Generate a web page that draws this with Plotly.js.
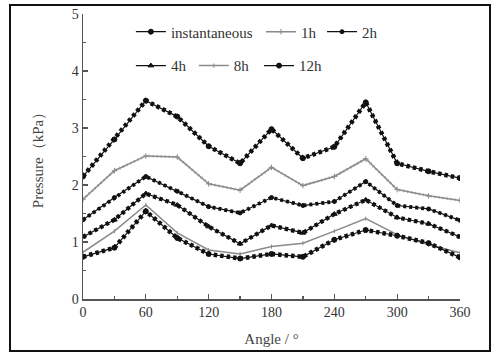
<!DOCTYPE html>
<html>
<head>
<meta charset="utf-8">
<script src="https://cdn.plot.ly/plotly-3.0.1.min.js"></script>
<style>
  html, body { margin: 0; padding: 0; background: #fff; }
  #wrap { position: relative; width: 493px; height: 359px; }
  #chart { width: 493px; height: 359px; }
  #frame { position: absolute; left: 9px; top: 4px; width: 478px; height: 344px;
           border: 2px solid #111; pointer-events: none; }
</style>
</head>
<body>
<div id="wrap">
  <div id="chart"></div>
  <div id="frame"></div>
</div>
<script>
const angles = [0, 30, 60, 90, 120, 150, 180, 210, 240, 270, 300, 330, 360];
const seriesNames = ["instantaneous", "1h", "2h", "4h", "8h", "12h"];
const pInstantaneous = [2.15, 2.80, 3.48, 3.20, 2.68, 2.38, 2.98, 2.47, 2.67, 3.45, 2.38, 2.24, 2.12];
const p1h  = [1.75, 2.25, 2.51, 2.49, 2.02, 1.91, 2.31, 1.99, 2.15, 2.46, 1.92, 1.81, 1.73];
const p2h  = [1.39, 1.78, 2.15, 1.89, 1.62, 1.51, 1.78, 1.64, 1.71, 2.06, 1.64, 1.58, 1.38];
const p4h  = [1.09, 1.39, 1.85, 1.65, 1.27, 0.97, 1.29, 1.16, 1.49, 1.74, 1.43, 1.32, 1.09];
const p8h  = [0.82, 1.19, 1.65, 1.16, 0.86, 0.79, 0.92, 0.98, 1.19, 1.41, 1.13, 0.95, 0.81];
const p12h = [0.74, 0.90, 1.54, 1.07, 0.79, 0.71, 0.79, 0.74, 1.04, 1.21, 1.11, 0.98, 0.73];
const xTicks = [0, 60, 120, 180, 240, 300, 360];
const yTicks = [0, 1, 2, 3, 4, 5];

const values = [pInstantaneous, p1h, p2h, p4h, p8h, p12h];
const styles = [
  {color: '#111', symbol: 'circle', size: 5, lw: 1.2, bead: {w: 4.5, dash: '3.5px,3px', color: '#111'}},
  {color: '#8a8a8a', symbol: 'cross-thin', size: 4, lw: 1.5, bead: {w: 3, dash: '1px,3px', color: 'rgba(150,150,150,0.7)'}},
  {color: '#111', symbol: 'circle', size: 4, lw: 1.2, bead: {w: 3.8, dash: '3px,3px', color: '#111'}},
  {color: '#111', symbol: 'triangle-up', size: 5, lw: 1.2, bead: {w: 4.2, dash: '3.5px,3px', color: '#111'}},
  {color: '#8a8a8a', symbol: 'line-ns', size: 3, lw: 1.5, bead: null},
  {color: '#111', symbol: 'circle', size: 5, lw: 1.2, bead: {w: 4.5, dash: '3.5px,3px', color: '#111'}}
];
// legend placement (paper coords) for each entry
const legendX = [0.127, 0.472, 0.634, 0.127, 0.294, 0.467];
const legendY = [0.937, 0.937, 0.937, 0.818, 0.818, 0.818];

const traces = [];
seriesNames.forEach((name, i) => {
  const s = styles[i];
  if (s.bead) {
    traces.push({
      x: angles, y: values[i], type: 'scatter', mode: 'lines',
      line: {color: s.bead.color, width: s.bead.w, dash: s.bead.dash},
      showlegend: false, hoverinfo: 'skip'
    });
  }
  traces.push({
    x: angles, y: values[i], type: 'scatter', mode: 'lines+markers', name: name,
    legend: i === 0 ? 'legend' : 'legend' + (i + 1),
    line: {color: s.color, width: s.lw},
    marker: {color: s.color, symbol: s.symbol, size: s.size, line: {color: s.color, width: 1}}
  });
});

const serif = 'Liberation Serif, Times New Roman, serif';
const layout = {
  width: 493, height: 359,
  margin: {l: 83, r: 33, t: 14, b: 60},
  paper_bgcolor: '#fff', plot_bgcolor: '#fff',
  font: {family: serif, size: 14, color: '#333'},
  xaxis: {
    range: [0, 360], tickvals: xTicks, ticktext: xTicks.map(String),
    showgrid: false, zeroline: false, showline: true, linecolor: '#555', linewidth: 1.5,
    ticks: 'inside', ticklen: 5, tickcolor: '#555', tickwidth: 1.2,
    minor: {dtick: 30, ticks: 'inside', ticklen: 3, tickcolor: '#555', showgrid: false},
    tickfont: {family: serif, size: 14, color: '#333'},
    title: {text: 'Angle / °', font: {family: serif, size: 15, color: '#444'}, standoff: 14}
  },
  yaxis: {
    range: [0, 5], tickvals: yTicks, ticktext: yTicks.map(String),
    showgrid: false, zeroline: false, showline: true, linecolor: '#555', linewidth: 1.5,
    ticks: 'inside', ticklen: 5, tickcolor: '#555', tickwidth: 1.2,
    minor: {dtick: 0.5, ticks: 'inside', ticklen: 3, tickcolor: '#555', showgrid: false},
    tickfont: {family: serif, size: 14, color: '#333'},
    title: {text: 'Pressure（kPa）', font: {family: serif, size: 15, color: '#444'}, standoff: 24}
  },
  showlegend: true
};
seriesNames.forEach((name, i) => {
  const key = i === 0 ? 'legend' : 'legend' + (i + 1);
  layout[key] = {
    orientation: 'h', x: legendX[i], y: legendY[i], xanchor: 'left', yanchor: 'middle',
    bgcolor: 'rgba(0,0,0,0)', font: {family: serif, size: 15, color: '#333'},
    itemwidth: 30
  };
});

Plotly.newPlot('chart', traces, layout, {displayModeBar: false, staticPlot: true});
</script>
</body>
</html>
